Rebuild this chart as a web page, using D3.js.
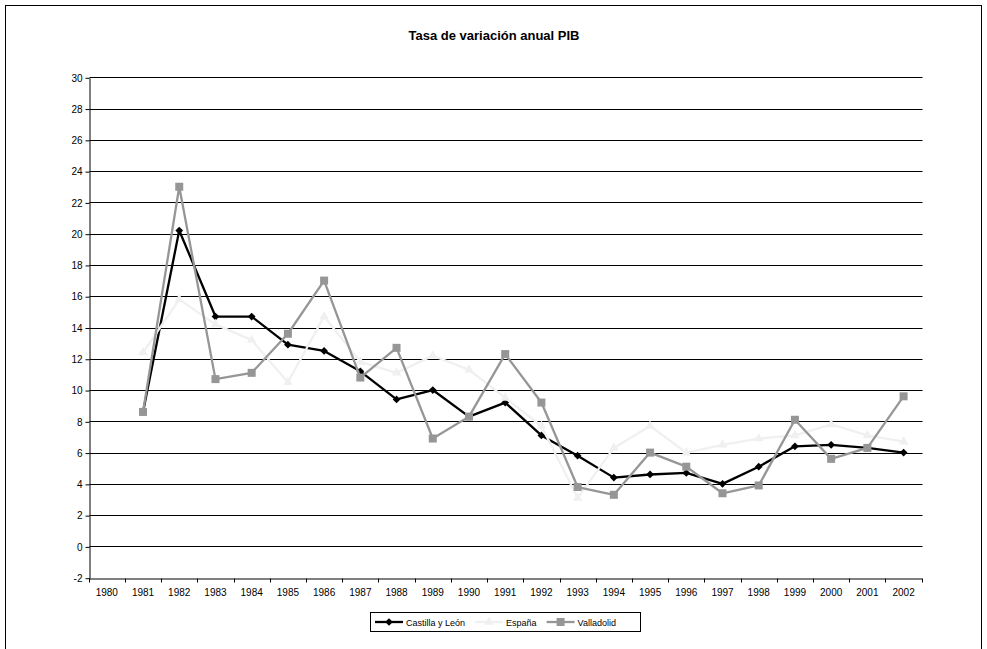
<!DOCTYPE html>
<html>
<head>
<meta charset="utf-8">
<script src="https://cdn.jsdelivr.net/npm/d3@7/dist/d3.min.js"></script>
<style>
  html, body { margin: 0; padding: 0; background: #fff; }
  svg { display: block; font-family: "Liberation Sans", Arial, sans-serif; }
</style>
</head>
<body>
<svg id="chart" width="987" height="649"></svg>
<script>
const title = "Tasa de variación anual PIB";
const years = ["1980","1981","1982","1983","1984","1985","1986","1987","1988","1989","1990","1991","1992","1993","1994","1995","1996","1997","1998","1999","2000","2001","2002"];
const yTicks = [-2,0,2,4,6,8,10,12,14,16,18,20,22,24,26,28,30];
const castillaYLeon = [null,8.6,20.2,14.7,14.7,12.9,12.5,11.2,9.4,10.0,8.3,9.2,7.1,5.8,4.4,4.6,4.7,4.0,5.1,6.4,6.5,6.3,6.0];
const espana        = [null,12.4,15.8,14.2,13.2,10.5,14.7,11.8,11.1,12.2,11.3,9.5,7.7,3.1,6.3,7.7,6.0,6.5,6.9,7.1,7.8,7.1,6.7];
const valladolid    = [null,8.6,23.0,10.7,11.1,13.6,17.0,10.8,12.7,6.9,8.3,12.3,9.2,3.8,3.3,6.0,5.1,3.4,3.9,8.1,5.6,6.3,9.6];
const seriesNames = ["Castilla y León","España","Valladolid"];

const svg = d3.select("#chart");
const plotLeft = 88.7, plotRight = 921.7, plotTop = 77.3, plotBottom = 577.7;

const x = d3.scaleBand().domain(years).range([plotLeft, plotRight]).padding(0);
const y = d3.scaleLinear().domain([-2, 30]).range([plotBottom, plotTop]);
const crisp = v => Math.round(v) + 0.5;

// outer border
svg.append("rect").attr("x", 5.5).attr("y", 5.5).attr("width", 976).attr("height", 660)
  .attr("fill", "none").attr("stroke", "#000").attr("stroke-width", 1);

// title
svg.append("text").attr("x", 494).attr("y", 40).attr("text-anchor", "middle")
  .attr("font-size", 13).attr("font-weight", "bold").text(title);

// gridlines
svg.append("g").selectAll("line").data(yTicks.filter(t => t > -2)).join("line")
  .attr("x1", crisp(plotLeft)).attr("x2", crisp(plotRight))
  .attr("y1", d => crisp(y(d))).attr("y2", d => crisp(y(d)))
  .attr("stroke", "#000").attr("stroke-width", 1);

// y axis
const yAxis = d3.axisLeft(y).tickValues(yTicks).tickFormat(d => String(d)).tickSize(4).tickSizeOuter(0).tickPadding(3);
const gy = svg.append("g").attr("transform", `translate(${crisp(plotLeft)},0.5)`).call(yAxis);
gy.select(".domain").attr("stroke", "#000");
gy.selectAll(".tick line").attr("stroke", "#000");
gy.selectAll("text").attr("font-size", 10).attr("fill", "#000").attr("font-family", "Liberation Sans, Arial, sans-serif");

// x axis
const xAxis = d3.axisBottom(x).tickSize(0).tickSizeOuter(0).tickPadding(10);
const gx = svg.append("g").attr("transform", `translate(0,${crisp(plotBottom)})`).call(xAxis);
gx.select(".domain").attr("stroke", "#000");
gx.selectAll("text").attr("font-size", 10).attr("fill", "#000").attr("font-family", "Liberation Sans, Arial, sans-serif");
const bounds = years.map(d => x(d)).concat([x(years[years.length - 1]) + x.bandwidth()]);
gx.append("g").selectAll("line").data(bounds).join("line")
  .attr("x1", d => crisp(d)).attr("x2", d => crisp(d)).attr("y1", 0).attr("y2", 4)
  .attr("stroke", "#000");

const cx = d => x(d) + x.bandwidth() / 2;

function drawSeries(vals, color, width, marker) {
  const pts = years.map((yr, i) => ({yr, v: vals[i]})).filter(p => p.v !== null);
  const line = d3.line().x(p => cx(p.yr)).y(p => y(p.v));
  const g = svg.append("g");
  g.append("path").datum(pts).attr("d", line).attr("fill", "none")
    .attr("stroke", color).attr("stroke-width", width).attr("stroke-linejoin", "round");
  const sym = d3.symbol().type(marker.type).size(marker.size);
  g.selectAll("path.m").data(pts).join("path").attr("class", "m")
    .attr("d", sym).attr("transform", p => `translate(${cx(p.yr)},${y(p.v)})` + (marker.rotate ? " rotate(45)" : ""))
    .attr("fill", color);
  return g;
}
const styles = [
  {color: "#000000", width: 2.3, marker: {type: d3.symbolSquare, size: 30, rotate: true}},
  {color: "#f0f0f0", width: 2.3, marker: {type: d3.symbolTriangle, size: 40}},
  {color: "#969696", width: 2.3, marker: {type: d3.symbolSquare, size: 64}}
];
drawSeries(castillaYLeon, styles[0].color, styles[0].width, styles[0].marker);
drawSeries(espana, styles[1].color, styles[1].width, styles[1].marker);
drawSeries(valladolid, styles[2].color, styles[2].width, styles[2].marker);

// legend
const lg = svg.append("g");
lg.append("rect").attr("x", 370.5).attr("y", 612.5).attr("width", 270).attr("height", 19)
  .attr("fill", "#fff").attr("stroke", "#000");
let lx = 375;
seriesNames.forEach((name, i) => {
  const s = styles[i];
  const ly = 622;
  lg.append("line").attr("x1", lx).attr("x2", lx + 28).attr("y1", ly).attr("y2", ly)
    .attr("stroke", s.color).attr("stroke-width", s.width);
  lg.append("path").attr("d", d3.symbol().type(s.marker.type).size(s.marker.size))
    .attr("transform", `translate(${lx + 14},${ly})` + (s.marker.rotate ? " rotate(45)" : ""))
    .attr("fill", s.color);
  const t = lg.append("text").attr("x", lx + 31).attr("y", ly + 3.5).attr("font-size", 9)
    .attr("fill", "#000").text(name);
  lx += 31 + t.node().getComputedTextLength() + 10;
});
</script>
</body>
</html>
